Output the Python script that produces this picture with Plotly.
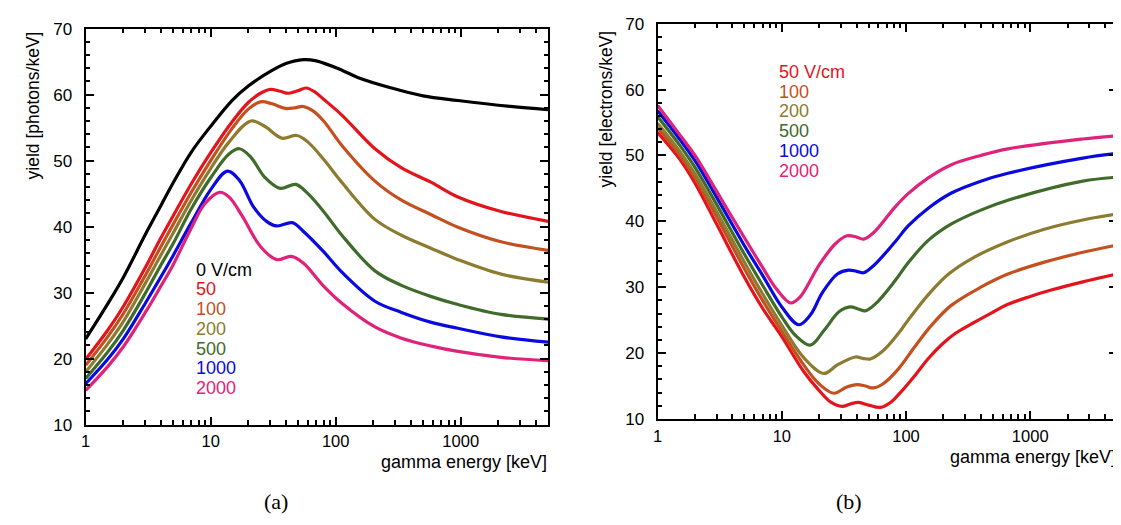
import plotly.graph_objects as go

# ---------------- data: panel (a) scintillation yield [photons/keV] ----------------
a_e_black = [1, 1.5, 2, 3, 4, 5, 7, 10, 15, 20, 30, 40, 55, 70, 112, 150, 279, 500, 950, 2500, 5000]
a_y_black = [23.0, 28.3, 32.3, 38.8, 43.2, 46.6, 51.3, 55.2, 59.2, 61.3, 63.5, 64.7, 65.3, 65.1, 63.7, 62.6, 61.0, 59.8, 59.1, 58.2, 57.7]

a_e_50 = [1, 1.5, 2, 3, 4, 5, 7, 10, 15, 20, 25, 30, 36, 42, 50, 58, 68, 80, 112, 206, 336, 582, 950, 2100, 5000]
a_y_50 = [19.9, 24.3, 27.9, 33.8, 38.3, 41.6, 46.5, 51.2, 56.0, 58.8, 60.2, 60.8, 60.5, 60.2, 60.6, 61.0, 60.4, 59.3, 56.9, 51.8, 48.9, 46.7, 44.5, 42.3, 40.8]

a_e_100 = [1, 1.5, 2, 3, 4, 5, 7, 10, 15, 20, 25, 31, 39.5, 47, 55, 65, 80, 112, 206, 336, 582, 950, 2100, 5000]
a_y_100 = [19.0, 23.3, 26.8, 32.6, 37.0, 40.3, 45.2, 50.0, 55.0, 57.8, 58.9, 58.6, 57.9, 58.0, 58.2, 57.6, 56.0, 52.3, 46.9, 44.0, 41.8, 39.9, 37.7, 36.4]

a_e_200 = [1, 1.5, 2, 3, 4, 5, 7, 10, 14, 21, 27, 37, 49, 60, 80, 112, 206, 336, 582, 950, 2100, 5000]
a_y_200 = [18.0, 22.2, 25.6, 31.4, 35.7, 39.0, 44.0, 48.8, 52.8, 56.0, 55.2, 53.4, 53.8, 52.8, 50.2, 46.7, 41.1, 38.7, 36.7, 35.0, 32.8, 31.6]

a_e_500 = [1, 1.5, 2, 3, 4, 5, 7, 10, 14, 17, 21, 27, 36, 48, 60, 80, 112, 206, 336, 582, 950, 2100, 5000]
a_y_500 = [17.0, 21.0, 24.3, 29.9, 34.2, 37.4, 42.7, 47.4, 51.0, 51.8, 50.5, 47.5, 45.8, 46.4, 45.0, 42.3, 38.7, 33.3, 31.1, 29.4, 28.2, 26.7, 26.0]

a_e_1000 = [1, 1.5, 2, 3, 4, 5, 7, 10, 13.6, 17, 22, 28, 33.8, 45, 55, 80, 112, 206, 336, 582, 950, 2100, 5000]
a_y_1000 = [16.2, 19.9, 23.0, 28.4, 32.4, 35.6, 40.6, 45.6, 48.4, 47.0, 43.0, 40.8, 40.1, 40.6, 39.3, 36.2, 33.1, 28.7, 27.0, 25.5, 24.6, 23.3, 22.5]

a_e_2000 = [1, 1.5, 2, 3, 4, 5, 7, 9, 11.8, 14, 18, 25, 33.8, 44, 55, 80, 112, 206, 336, 582, 950, 2100, 5000]
a_y_2000 = [15.2, 18.8, 21.8, 27.0, 31.0, 34.2, 39.8, 43.5, 45.2, 44.5, 41.5, 37.0, 35.0, 35.5, 34.5, 31.0, 28.4, 24.8, 23.1, 21.9, 21.1, 20.2, 19.7]

# ---------------- data: panel (b) charge yield [electrons/keV] ----------------
b_e_50 = [1, 1.5, 2, 3, 5, 7, 10, 15, 20, 25, 30.5, 36, 41.6, 50, 62, 75, 90, 118, 150, 194, 250, 357, 500, 661, 1000, 1500, 2650, 5000]
b_y_50 = [53.5, 49.5, 45.8, 39.5, 31.5, 26.8, 22.5, 17.2, 14.3, 12.5, 11.9, 12.3, 12.5, 12.1, 11.75, 12.5, 14.0, 16.6, 19.1, 21.3, 23.0, 24.7, 26.2, 27.4, 28.6, 29.6, 30.8, 32.0]

b_e_100 = [1, 1.5, 2, 3, 5, 7, 10, 15, 20, 26.2, 33, 40.3, 47, 54.6, 65, 86.9, 118, 160, 230, 400, 661, 1300, 2650, 5000]
b_y_100 = [54.2, 50.1, 46.6, 40.6, 32.8, 28.0, 23.3, 18.2, 15.3, 13.9, 14.8, 15.2, 15.0, 14.7, 15.3, 17.6, 21.0, 24.2, 27.2, 30.0, 32.0, 33.8, 35.3, 36.4]

b_e_200 = [1, 1.5, 2, 3, 5, 7, 10, 15, 21.8, 28, 39.1, 45, 51.5, 65, 87, 104, 150, 220, 350, 661, 1300, 2650, 5000]
b_y_200 = [54.9, 50.7, 47.2, 41.4, 33.8, 29.0, 24.2, 19.3, 16.9, 18.2, 19.4, 19.2, 19.1, 20.3, 23.0, 25.0, 28.8, 32.0, 34.5, 36.9, 38.8, 40.2, 41.1]

b_e_500 = [1, 1.5, 2, 3, 5, 7, 10, 13, 17, 22, 29, 35.6, 41, 47, 57, 81.8, 104, 151, 232, 400, 661, 2650, 5000]
b_y_500 = [55.9, 51.6, 48.2, 42.5, 35.0, 30.3, 25.5, 22.6, 21.2, 23.5, 26.3, 27.0, 26.7, 26.4, 27.5, 31.0, 33.7, 37.1, 39.6, 41.7, 43.2, 46.1, 46.7]

b_e_1000 = [1, 1.5, 2, 3, 5, 7, 10, 13.7, 17, 21.1, 28, 34.5, 40, 45.6, 55, 81.8, 104, 151, 232, 400, 661, 2650, 5000]
b_y_1000 = [56.8, 52.5, 49.2, 43.6, 36.3, 31.8, 27.0, 24.3, 25.8, 29.1, 32.0, 32.6, 32.4, 32.2, 33.3, 36.9, 39.3, 42.0, 44.3, 46.1, 47.3, 49.6, 50.3]

b_e_2000 = [1, 1.5, 2, 3, 5, 7, 9, 11.8, 14, 20, 27, 33.5, 40, 45.6, 55, 81.8, 104, 151, 232, 400, 661, 2650, 5000]
b_y_2000 = [57.6, 53.2, 50.0, 44.5, 37.5, 33.0, 29.8, 27.6, 28.5, 33.4, 36.6, 37.8, 37.6, 37.3, 38.3, 42.2, 44.2, 46.6, 48.6, 50.0, 51.0, 52.5, 53.0]

# ---------------- labels ----------------
a_labels = ["0 V/cm", "50", "100", "200", "500", "1000", "2000"]
b_labels = ["50 V/cm", "100", "200", "500", "1000", "2000"]
x_tickvals = [1, 10, 100, 1000]
x_ticktext = ["1", "10", "100", "1000"]
y_tickvals = [10, 20, 30, 40, 50, 60, 70]

C_BLACK = "#000000"
C_50 = "#e3141b"
C_100 = "#c4501f"
C_200 = "#8c7b30"
C_500 = "#3f6b2b"
C_1000 = "#0a0ade"
C_2000 = "#e0237a"

a_series = [
    (a_e_black, a_y_black, C_BLACK),
    (a_e_50, a_y_50, C_50),
    (a_e_100, a_y_100, C_100),
    (a_e_200, a_y_200, C_200),
    (a_e_500, a_y_500, C_500),
    (a_e_1000, a_y_1000, C_1000),
    (a_e_2000, a_y_2000, C_2000),
]
b_series = [
    (b_e_50, b_y_50, C_50),
    (b_e_100, b_y_100, C_100),
    (b_e_200, b_y_200, C_200),
    (b_e_500, b_y_500, C_500),
    (b_e_1000, b_y_1000, C_1000),
    (b_e_2000, b_y_2000, C_2000),
]

W, H = 1121, 525
FONT = "Liberation Sans, Arial, Helvetica, sans-serif"
SERIF = "Liberation Serif, DejaVu Serif, serif"

fig = go.Figure()
for ex, ey, col in a_series:
    fig.add_trace(go.Scatter(x=ex, y=ey, mode="lines", xaxis="x", yaxis="y",
                             line=dict(color=col, width=3.2, shape="spline", smoothing=1.0),
                             showlegend=False, hoverinfo="skip"))
for ex, ey, col in b_series:
    fig.add_trace(go.Scatter(x=ex, y=ey, mode="lines", xaxis="x2", yaxis="y2",
                             line=dict(color=col, width=3.2, shape="spline", smoothing=1.0),
                             showlegend=False, hoverinfo="skip"))


def px_x(p):
    return p / W


def px_y(p):
    return 1 - p / H


def xaxis_style(domain, anchor):
    return dict(domain=domain, anchor=anchor, type="log", range=[0, 3.699],
                tickmode="array", tickvals=x_tickvals, ticktext=x_ticktext,
                ticks="inside", ticklen=8, tickwidth=1.5, tickcolor="black",
                showline=True, linecolor="black", linewidth=2, mirror="allticks",
                showgrid=False, zeroline=False, ticklabelstandoff=1,
                tickfont=dict(family=FONT, size=16.5, color="black"),
                minor=dict(ticks="inside", ticklen=4.5, tickwidth=1.5, tickcolor="black",
                           dtick="D1", showgrid=False))


def yaxis_style(domain, anchor):
    return dict(domain=domain, anchor=anchor, range=[10, 70],
                tickmode="array", tickvals=y_tickvals,
                ticks="inside", ticklen=8, tickwidth=1.5, tickcolor="black",
                showline=True, linecolor="black", linewidth=2, mirror="allticks",
                showgrid=False, zeroline=False, ticklabelstandoff=8,
                tickfont=dict(family=FONT, size=17, color="black"),
                minor=dict(ticks="inside", ticklen=4.5, tickwidth=1.5, tickcolor="black",
                           dtick=2, showgrid=False))


fig.update_layout(
    width=W, height=H, margin=dict(l=0, r=0, t=0, b=0),
    paper_bgcolor="white", plot_bgcolor="white",
    xaxis=xaxis_style([px_x(73), px_x(537.5)], "y"),
    yaxis=yaxis_style([px_y(423), px_y(12)], "x"),
    xaxis2=xaxis_style([px_x(647.5), px_x(1109)], "y2"),
    yaxis2=yaxis_style([px_y(417), px_y(7)], "x2"),
)

ann = []
# axis titles
ann.append(dict(text="yield [photons/keV]", x=px_x(20), y=px_y(13), xref="paper", yref="paper",
                xanchor="center", yanchor="top", textangle=-90, showarrow=False,
                font=dict(family=FONT, size=17.5, color="black")))
ann.append(dict(text="yield [electrons/keV]", x=px_x(596), y=px_y(12), xref="paper", yref="paper",
                xanchor="center", yanchor="top", textangle=-90, showarrow=False,
                font=dict(family=FONT, size=17.5, color="black")))
ann.append(dict(text="gamma energy [keV]", x=px_x(538), y=px_y(462), xref="paper", yref="paper",
                xanchor="right", yanchor="middle", showarrow=False,
                font=dict(family=FONT, size=18, color="black")))
ann.append(dict(text="gamma energy [keV]", x=px_x(1110), y=px_y(457), xref="paper", yref="paper",
                xanchor="right", yanchor="middle", showarrow=False,
                font=dict(family=FONT, size=18, color="black")))
# legends as coloured text
for i, (lab, (_, _, col)) in enumerate(zip(a_labels, a_series)):
    ann.append(dict(text=lab, x=px_x(182), y=px_y(262 + 20.5 * i), xref="paper", yref="paper",
                    xanchor="left", yanchor="middle", showarrow=False,
                    font=dict(family=FONT, size=18, color=col)))
for i, (lab, (_, _, col)) in enumerate(zip(b_labels, b_series)):
    ann.append(dict(text=lab, x=px_x(767), y=px_y(57 + 20.5 * i), xref="paper", yref="paper",
                    xanchor="left", yanchor="middle", showarrow=False,
                    font=dict(family=FONT, size=18, color=col)))
# captions
ann.append(dict(text="(a)", x=px_x(264), y=px_y(503), xref="paper", yref="paper",
                xanchor="center", yanchor="middle", showarrow=False,
                font=dict(family=SERIF, size=22, color="black")))
ann.append(dict(text="(b)", x=px_x(840), y=px_y(503), xref="paper", yref="paper",
                xanchor="center", yanchor="middle", showarrow=False,
                font=dict(family=SERIF, size=22, color="black")))
fig.update_layout(annotations=ann)

fig.write_html("out.html")
